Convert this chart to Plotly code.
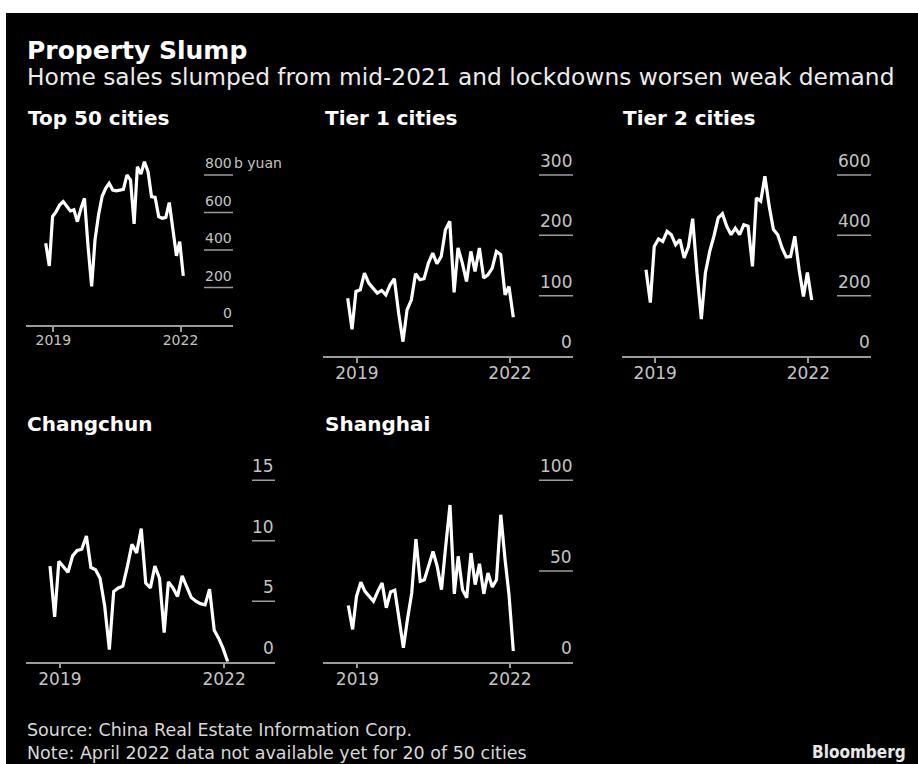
import pandas as pd
import plotly.graph_objects as go

# Monthly home sales, Jan 2019 - Apr 2022
months = pd.date_range("2019-01-01", "2022-04-01", freq="MS")

top50 = [436, 315, 578, 605, 640, 658, 634, 608, 614, 551, 622, 676, 420, 206,
         454, 589, 685, 729, 756, 720, 716, 720, 723, 800, 773, 539, 844, 805,
         871, 818, 685, 681, 578, 569, 574, 653, 507, 369, 445, 262]
tier1 = [95.8, 44.3, 106.9, 109.7, 137.4, 120.8, 112.5, 104.2, 108.6, 101.4,
         118, 128, 70.9, 23.8, 76.5, 93.1, 136.3, 126.3, 128, 154, 170.6, 152.9,
         165.1, 209.4, 223.3, 105.3, 179, 154, 123.5, 173.4, 140.2, 179, 129.1,
         134.6, 145.7, 173.4, 167.9, 101.4, 115.2, 64.3]
tier2 = [286, 177, 363, 388, 380, 413, 402, 369, 386, 325, 363, 455, 275, 122,
         275, 347, 397, 458, 472, 430, 402, 424, 402, 435, 430, 297, 524, 513,
         596, 496, 419, 402, 358, 328, 330, 397, 286, 197, 277, 186]
changchun = [7.9, 3.7, 8.3, 7.8, 7.4, 8.75, 9.2, 9.3, 10.4, 7.8, 7.6, 6.9, 4.6,
             1.0, 5.8, 6.1, 6.25, 7.9, 9.7, 9.0, 11.0, 6.5, 6.1, 7.9, 6.9, 2.4,
             6.6, 6.1, 5.4, 7.1, 6.25, 5.3, 5.0, 4.8, 4.7, 6.0, 2.6, 1.9, 1.1, 0]
shanghai = [31, 17.8, 36, 43.8, 38.8, 36, 33.3, 38.8, 43.4, 29.7, 38.5, 39.4,
            24.2, 7.7, 23.3, 37.9, 67.6, 44.3, 45.2, 52.6, 60.8, 52.6, 39.7,
            63.6, 86.4, 37.4, 58.1, 39.7, 35.2, 59.9, 42.5, 54, 37.4, 48.9,
            41.2, 45.2, 81, 56.2, 37, 5.9]

panel_titles = ["Top 50 cities", "Tier 1 cities", "Tier 2 cities", "Changchun", "Shanghai"]
series = [top50, tier1, tier2, changchun, shanghai]
y_ticks = [[0, 200, 400, 600, 800], [0, 100, 200, 300], [0, 200, 400, 600],
           [0, 5, 10, 15], [0, 50, 100]]
y_unit = ["b yuan", "", "", "", ""]
year_ticks = ["2019-03-08", "2022-03-08"]
year_labels = ["2019", "2022"]

W, H = 918, 764
FONT = "DejaVu Sans"
GRID = "#9b9b9b"
LABEL = "#c4c4c4"

# Pixel layout of each small multiple:
# axis span, px of first/last month, baseline px, top px, reference tick (value, px),
# start px of the short gridlines, font size, title position
layout_px = [
    dict(ax=(26, 233), first=45.7, last=183.3, base=325, top=150, ref=(800, 175), gx=204, fs=14, tpos=(28, 118)),
    dict(ax=(323, 573), first=347.7, last=513.3, base=356, top=160, ref=(300, 175), gx=539, fs=17, tpos=(325, 118)),
    dict(ax=(622, 871), first=646, last=811.7, base=356, top=160, ref=(600, 175), gx=837, fs=17, tpos=(623, 118)),
    dict(ax=(26, 275), first=50, last=227.7, base=661.7, top=465, ref=(15, 480.3), gx=252, fs=17, tpos=(27, 424)),
    dict(ax=(323, 573), first=348.3, last=513.3, base=661.7, top=465, ref=(100, 480.3), gx=539, fs=17, tpos=(325, 424)),
]


def px_to_date(px, p0, p1):
    t0, t1 = months[0].value, months[-1].value
    return pd.Timestamp(int(t0 + (px - p0) / (p1 - p0) * (t1 - t0)))


def fx(px):
    return px / W


def fy(py):
    return 1 - py / H


fig = go.Figure()
shapes = [
    # white frame around the dark card
    dict(type="rect", xref="paper", yref="paper", x0=0, x1=1, y0=0, y1=1,
         fillcolor="white", line_width=0, layer="below"),
    dict(type="rect", xref="paper", yref="paper", x0=fx(6), x1=1, y0=0, y1=fy(13),
         fillcolor="black", line_width=0, layer="below"),
]
annotations = []
layout_axes = {}

for i, (name, vals, ticks, unit, g) in enumerate(zip(panel_titles, series, y_ticks, y_unit, layout_px)):
    n = "" if i == 0 else str(i + 1)
    xa, ya = "x" + n, "y" + n
    fig.add_trace(go.Scatter(x=months, y=vals, mode="lines", xaxis=xa, yaxis=ya,
                             line=dict(color="white", width=3.2), showlegend=False,
                             hoverinfo="skip"))
    px_per_unit = (g["base"] - g["ref"][1]) / g["ref"][0]
    ytop = (g["base"] - g["top"]) / px_per_unit
    x0d = px_to_date(g["ax"][0], g["first"], g["last"])
    x1d = px_to_date(g["ax"][1], g["first"], g["last"])
    layout_axes["xaxis" + n] = dict(
        domain=[fx(g["ax"][0]), fx(g["ax"][1])], anchor=ya, type="date",
        range=[x0d, x1d], showgrid=False, zeroline=False,
        showline=True, linecolor=GRID, linewidth=1.5,
        ticks="outside", ticklen=5, tickwidth=1.5, tickcolor=GRID,
        tickvals=year_ticks, ticktext=year_labels, ticklabelstandoff=-4,
        tickfont=dict(family=FONT, size=g["fs"], color=LABEL), fixedrange=True)
    layout_axes["yaxis" + n] = dict(
        domain=[fy(g["base"]), fy(g["top"])], anchor=xa, range=[0, ytop],
        visible=False, fixedrange=True)
    gx_frac = (g["gx"] - g["ax"][0]) / (g["ax"][1] - g["ax"][0])
    for j, t in enumerate(ticks):
        if t != 0:
            shapes.append(dict(type="line", xref=xa + " domain", yref=ya,
                               x0=gx_frac, x1=1, y0=t, y1=t,
                               line=dict(color=GRID, width=1.5)))
        annotations.append(dict(xref=xa + " domain", yref=ya, x=1, y=t,
                                xanchor="right", yanchor="bottom", yshift=3,
                                borderpad=0, text=str(t), showarrow=False,
                                font=dict(family=FONT, size=g["fs"], color=LABEL)))
        if unit and j == len(ticks) - 1:
            annotations.append(dict(xref=xa + " domain", yref=ya, x=1, y=t,
                                    xanchor="left", yanchor="bottom", yshift=3,
                                    borderpad=0, text=unit, showarrow=False,
                                    font=dict(family=FONT, size=g["fs"], color=LABEL)))
    annotations.append(dict(xref="paper", yref="paper", x=fx(g["tpos"][0] - 1), y=fy(g["tpos"][1]),
                            xanchor="left", yanchor="middle", text="<b>" + name + "</b>",
                            borderpad=0, showarrow=False,
                            font=dict(family=FONT, size=20, color="white")))

annotations += [
    dict(xref="paper", yref="paper", x=fx(26), y=fy(50), xanchor="left", yanchor="middle",
         text="<b>Property Slump</b>", showarrow=False, borderpad=0,
         font=dict(family=FONT, size=25, color="white")),
    dict(xref="paper", yref="paper", x=fx(26), y=fy(77), xanchor="left", yanchor="middle",
         text="Home sales slumped from mid-2021 and lockdowns worsen weak demand",
         showarrow=False, borderpad=0, font=dict(family=FONT, size=23.3, color="#ececec")),
    dict(xref="paper", yref="paper", x=fx(26), y=fy(741), xanchor="left", yanchor="middle",
         align="left", borderpad=0,
         text="Source: China Real Estate Information Corp.<br>"
              "Note: April 2022 data not available yet for 20 of 50 cities",
         showarrow=False, font=dict(family=FONT, size=17.5, color="#d8d8d8")),
    dict(xref="paper", yref="paper", x=fx(907), y=fy(752), xanchor="right", yanchor="middle",
         text="<b>Bloomberg</b>", showarrow=False, borderpad=0,
         font=dict(family="DejaVu Sans Condensed", size=17, color="#e8e8e8")),
]

fig.update_layout(
    width=W, height=H, margin=dict(l=0, r=0, t=0, b=0),
    paper_bgcolor="white", plot_bgcolor="rgba(0,0,0,0)",
    shapes=shapes, annotations=annotations, showlegend=False,
    **layout_axes,
)

fig.write_html("out.html", config={"displayModeBar": False})
